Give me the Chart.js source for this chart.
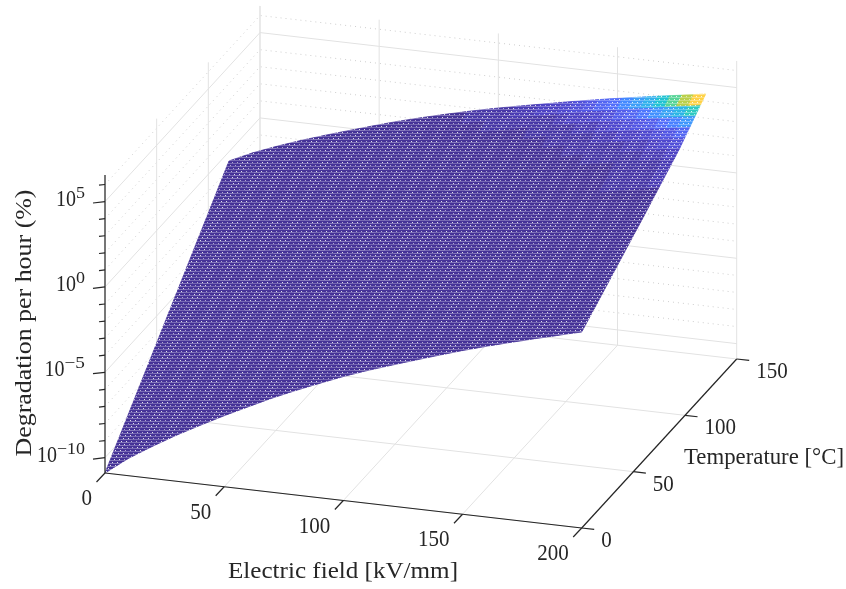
<!DOCTYPE html>
<html>
<head>
<meta charset="utf-8">
<script src="https://cdn.jsdelivr.net/npm/chart.js@4"></script>
<style>
  html, body { margin: 0; padding: 0; background: #fff; }
  canvas { display: block; }
</style>
</head>
<body>
<canvas id="surfaceChart" width="846" height="589"></canvas>
<script>
// mesh axes
const fieldValues = [0,10,20,30,40,50,60,70,80,90,100,110,120,130,140,145,150,155,160,165,170,175,180,185,190,195,200];
const tempValues = [0,15,30,45,60,75,90,95,100,105,110,115,120];

// log10 of degradation per hour: one row per temperature
const logRate = [
  [-10.90,-9.87,-9.01,-8.20,-7.46,-6.74,-6.06,-5.39,-4.78,-4.20,-3.64,-3.13,-2.66,-2.20,-1.75,-1.53,-1.31,-1.11,-0.90,-0.71,-0.51,-0.33,-0.14,0.04,0.22,0.41,0.58],
  [-9.61,-8.63,-7.81,-7.05,-6.34,-5.67,-5.01,-4.38,-3.81,-3.25,-2.73,-2.24,-1.79,-1.36,-0.93,-0.73,-0.52,-0.32,-0.13,0.06,0.24,0.42,0.59,0.76,0.94,1.11,1.28],
  [-8.31,-7.38,-6.61,-5.89,-5.22,-4.59,-3.97,-3.37,-2.83,-2.30,-1.81,-1.34,-0.92,-0.51,-0.11,0.09,0.28,0.47,0.65,0.83,1.00,1.17,1.33,1.50,1.66,1.83,1.98],
  [-7.02,-6.14,-5.41,-4.74,-4.11,-3.50,-2.92,-2.36,-1.85,-1.35,-0.89,-0.45,-0.05,0.34,0.72,0.90,1.08,1.26,1.43,1.60,1.76,1.92,2.07,2.23,2.38,2.54,2.69],
  [-5.72,-4.90,-4.22,-3.58,-2.99,-2.42,-1.88,-1.35,-0.87,-0.40,0.03,0.44,0.82,1.18,1.54,1.71,1.88,2.05,2.21,2.37,2.52,2.67,2.81,2.96,3.10,3.25,3.39],
  [-4.43,-3.66,-3.02,-2.42,-1.86,-1.33,-0.82,-0.32,0.13,0.56,0.97,1.36,1.71,2.05,2.38,2.55,2.71,2.86,3.02,3.16,3.31,3.44,3.58,3.72,3.85,3.99,4.12],
  [-3.13,-2.41,-1.81,-1.26,-0.74,-0.24,0.23,0.70,1.12,1.53,1.91,2.27,2.59,2.91,3.22,3.38,3.53,3.67,3.81,3.95,4.09,4.21,4.34,4.47,4.60,4.72,4.84],
  [-2.70,-2.00,-1.41,-0.87,-0.36,0.12,0.59,1.04,1.45,1.85,2.22,2.58,2.89,3.21,3.51,3.66,3.81,3.95,4.09,4.22,4.35,4.48,4.60,4.73,4.85,4.98,5.09],
  [-2.27,-1.58,-1.00,-0.47,0.03,0.51,0.97,1.41,1.82,2.21,2.58,2.92,3.23,3.54,3.84,3.99,4.13,4.27,4.41,4.54,4.67,4.79,4.91,5.04,5.16,5.28,5.40],
  [-1.84,-1.16,-0.59,-0.07,0.42,0.89,1.34,1.78,2.18,2.56,2.92,3.26,3.57,3.87,4.17,4.31,4.45,4.59,4.72,4.85,4.98,5.10,5.22,5.34,5.46,5.58,5.70],
  [-1.40,-0.74,-0.18,0.34,0.82,1.28,1.72,2.15,2.54,2.92,3.27,3.61,3.91,4.21,4.50,4.64,4.78,4.91,5.04,5.17,5.30,5.41,5.53,5.65,5.77,5.89,6.00],
  [-0.97,-0.32,0.23,0.74,1.21,1.66,2.10,2.52,2.90,3.27,3.62,3.95,4.25,4.54,4.82,4.96,5.10,5.23,5.36,5.48,5.61,5.72,5.84,5.96,6.07,6.19,6.30],
  [-0.54,0.10,0.64,1.14,1.60,2.04,2.47,2.89,3.27,3.63,3.97,4.29,4.59,4.87,5.15,5.29,5.42,5.55,5.68,5.80,5.92,6.04,6.15,6.26,6.38,6.49,6.60]
];

// ticks
const fieldTicks = [0, 50, 100, 150, 200];
const tempTicks = [0, 50, 100, 150];
const logMajorTicks = [-10, -5, 0, 5];
const logMinorTicks = [-9, -8, -7, -6, -4, -3, -2, -1, 1, 2, 3, 4, 6];

// axis limits
const fieldLim = [0, 200];
const tempLim = [0, 150];
const logLim = [-10.9, 6.56];

// sampled parula, low to high
const parula = [[62,38,168],[69,55,213],[72,77,240],[69,99,253],[50,124,252],[43,145,239],[32,165,227],[8,181,208],[25,191,182],[55,200,151],[100,205,111],[157,201,67],[209,191,39],[248,186,61],[252,207,48],[245,233,36],[249,251,21]];

// orthographic view: where the box sits on the canvas
function project(field, temp, logZ) {
  return {
    x: 105 + field * 2.3835 + temp * 1.0333,
    y: 473 + field * 0.275 - temp * 1.1267 - (logZ - logLim[0]) * 17.07
  };
}

function parulaAt(level) {
  const pos = Math.min(0.999, level) * (parula.length - 1);
  const i = Math.floor(pos), f = pos - i;
  return parula[i].map(function(c, k) { return c + (parula[i + 1][k] - c) * f; });
}

// stippled tile, the white gaps of the fine mesh at this resolution
const patternCache = {};
function meshPattern(step) {
  if (patternCache[step]) return patternCache[step];
  const level = step / 48;
  const c = parulaAt(level);
  const shade = 0.82 + 0.18 * Math.min(1, level * 4);
  const tile = document.createElement('canvas');
  tile.width = 20;
  tile.height = 120;
  const tileCtx = tile.getContext('2d');
  const img = tileCtx.createImageData(20, 120);
  for (let y = 0; y < 120; y++) {
    for (let x = 0; x < 20; x++) {
      const inBand = (x + y / 2) % 20 < 10;
      let a = 0.05;
      if (y % 3 === 1) a = inBand ? 0.38 : 0.3;
      if (y % 3 === 0 && (x + (y / 3) * 2) % 5 === 0) a = inBand ? 0.85 : 0.6;
      const i = (y * 20 + x) * 4;
      for (let k = 0; k < 3; k++) {
        const base = c[k] * shade + 8;
        img.data[i + k] = base + (255 - base) * a;
      }
      img.data[i + 3] = 255;
    }
  }
  tileCtx.putImageData(img, 0, 0);
  patternCache[step] = document.createElement('canvas').getContext('2d').createPattern(tile, 'repeat');
  return patternCache[step];
}

const datasets = [];

function addLine(points, color, width, dash) {
  datasets.push({
    data: points,
    showLine: true,
    borderColor: color,
    borderWidth: width,
    borderDash: dash || [],
    pointRadius: 0,
    fill: false
  });
}

const gridColor = '#e2e2e2';
const minorColor = '#cdcdcd';
const axisColor = '#262626';

// back walls and floor
logMinorTicks.forEach(function(z) {
  addLine([project(0, 0, z), project(0, tempLim[1], z), project(fieldLim[1], tempLim[1], z)], minorColor, 1, [1, 4]);
});
logMajorTicks.forEach(function(z) {
  addLine([project(0, 0, z), project(0, tempLim[1], z), project(fieldLim[1], tempLim[1], z)], gridColor, 1);
});
fieldTicks.forEach(function(f) {
  addLine([project(f, 0, logLim[0]), project(f, tempLim[1], logLim[0]), project(f, tempLim[1], logLim[1])], gridColor, 1);
});
tempTicks.forEach(function(t) {
  addLine([project(fieldLim[1], t, logLim[0]), project(0, t, logLim[0]), project(0, t, logLim[1])], gridColor, 1);
});

// surface faces, colour follows the rate, not its log
const peak = Math.max.apply(null, logRate.map(function(row) { return Math.max.apply(null, row); }));
for (let j = 0; j < tempValues.length - 1; j++) {
  for (let i = 0; i < fieldValues.length - 1; i++) {
    const z = [logRate[j][i], logRate[j][i + 1], logRate[j + 1][i + 1], logRate[j + 1][i]];
    const high = Math.pow(10, Math.max.apply(null, z) - peak);
    const mean = z.reduce(function(s, v) { return s + Math.pow(10, v - peak); }, 0) / 4;
    const pat = meshPattern(Math.round(Math.pow((high + mean) / 2, 0.8) * 48));
    datasets.push({
      data: [
        project(fieldValues[i], tempValues[j], z[0]),
        project(fieldValues[i + 1], tempValues[j], z[1]),
        project(fieldValues[i + 1], tempValues[j + 1], z[2]),
        project(fieldValues[i], tempValues[j + 1], z[3]),
        project(fieldValues[i], tempValues[j], z[0])
      ],
      showLine: true,
      borderColor: pat,
      backgroundColor: pat,
      borderWidth: 0.8,
      pointRadius: 0,
      fill: 'shape'
    });
  }
}

// axis lines and ticks
const o = project(0, 0, logLim[0]);
addLine([o, project(fieldLim[1], 0, logLim[0])], axisColor, 1.2);
addLine([project(fieldLim[1], tempLim[0], logLim[0]), project(fieldLim[1], tempLim[1], logLim[0])], axisColor, 1.2);
addLine([o, project(0, 0, logLim[1])], axisColor, 1.2);
fieldTicks.forEach(function(f) {
  const p = project(f, 0, logLim[0]);
  addLine([p, { x: p.x - 8.5, y: p.y + 9 }], axisColor, 1.2);
});
tempTicks.forEach(function(t) {
  const p = project(fieldLim[1], t, logLim[0]);
  addLine([p, { x: p.x + 12.5, y: p.y + 1.4 }], axisColor, 1.2);
});
logMajorTicks.forEach(function(z) {
  const p = project(0, 0, z);
  addLine([p, { x: p.x - 12, y: p.y + 1.4 }], axisColor, 1.2);
});
logMinorTicks.forEach(function(z) {
  const p = project(0, 0, z);
  addLine([p, { x: p.x - 6, y: p.y + 0.7 }], axisColor, 1.2);
});

// later entries must paint on top
datasets.forEach(function(d, idx) { d.order = datasets.length - idx; });

const serif = '"Liberation Serif", serif';

function fitText(ctx, text, cx, cy, width, size, angle) {
  ctx.save();
  ctx.font = size + 'px ' + serif;
  ctx.translate(cx, cy);
  if (angle) ctx.rotate(angle);
  ctx.scale(width / ctx.measureText(text).width, 1);
  ctx.textAlign = 'center';
  ctx.textBaseline = 'middle';
  ctx.fillText(text, 0, 0);
  ctx.restore();
}

const textPlugin = {
  id: 'axisText',
  afterDraw: function(chart) {
    const ctx = chart.ctx;
    ctx.save();
    ctx.fillStyle = axisColor;
    fieldTicks.forEach(function(f) {
      const p = project(f, 0, logLim[0]);
      const w = String(f).length * 10.5;
      fitText(ctx, String(f), p.x - 13 - w / 2, p.y + 26, w, 23);
    });
    tempTicks.forEach(function(t) {
      const p = project(fieldLim[1], t, logLim[0]);
      const w = String(t).length * 10.5;
      fitText(ctx, String(t), p.x + 19.5 + w / 2, p.y + 13, w, 23);
    });
    logMajorTicks.forEach(function(z) {
      const p = project(0, 0, z);
      const digits = String(Math.abs(z));
      const exp = z < 0 ? '\u2212' + digits : digits;
      const expWidth = z < 0 ? 13 + digits.length * 7.5 : 9;
      fitText(ctx, exp, 85 - expWidth / 2, p.y - 8, expWidth, 16);
      fitText(ctx, '10', 85 - expWidth - 10, p.y - 2, 20, 23);
    });
    fitText(ctx, 'Electric field [kV/mm]', 343, 572, 230, 24);
    fitText(ctx, 'Temperature [\u00b0C]', 764, 458, 160, 23);
    fitText(ctx, 'Degradation per hour (%)', 25, 323, 267, 24, -Math.PI / 2);
    ctx.restore();
  }
};

new Chart(document.getElementById('surfaceChart').getContext('2d'), {
  type: 'scatter',
  data: { datasets: datasets },
  plugins: [textPlugin],
  options: {
    responsive: false,
    animation: false,
    events: [],
    layout: { padding: 0 },
    elements: { line: { tension: 0 } },
    plugins: { legend: { display: false }, tooltip: { enabled: false } },
    scales: {
      x: { type: 'linear', display: false, min: 0, max: 846 },
      y: { type: 'linear', display: false, min: 0, max: 589, reverse: true }
    }
  }
});
</script>
</body>
</html>
